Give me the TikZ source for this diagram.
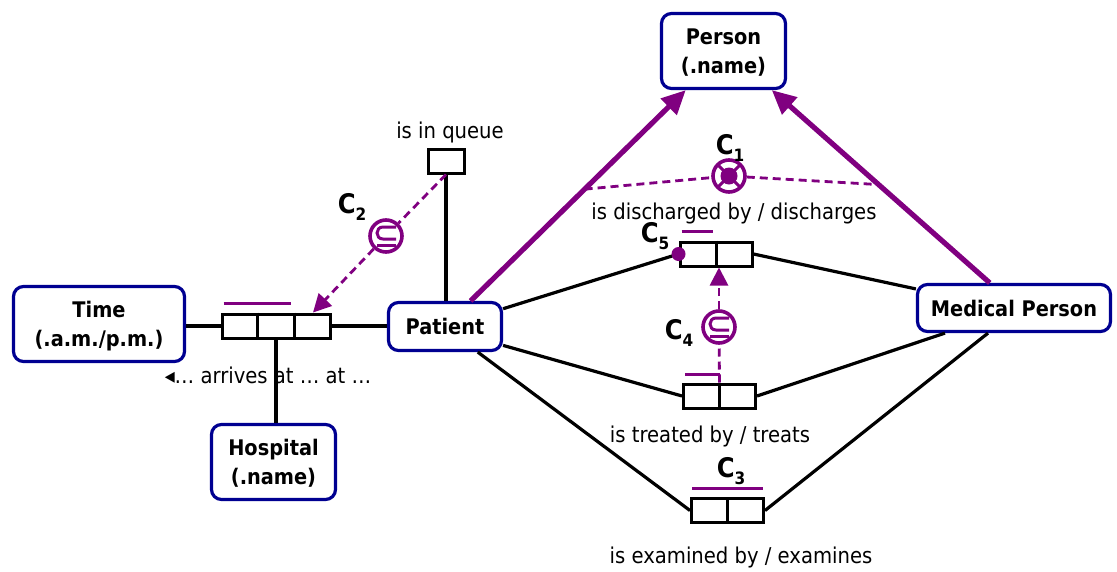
\documentclass[tikz,border=0pt]{standalone}
\usepackage{fontspec}
\setmainfont{DejaVu Sans Condensed}
\usetikzlibrary{arrows.meta,calc}

\definecolor{ormpurple}{RGB}{128,0,128}
\definecolor{entblue}{RGB}{0,0,145}

\tikzset{
  ent/.style={draw=entblue, line width=3.2pt, rounded corners=10pt, fill=white,
    align=center, inner sep=0pt, font=\fontsize{21.5}{29}\selectfont\bfseries},
  rolebox/.style={draw=black, line width=3pt, fill=white, minimum height=24pt,
    inner sep=0pt},
  conn/.style={draw=black, line width=3.2pt},
  cell/.style={draw=black, line width=3pt},
  ubar/.style={draw=ormpurple, line width=3pt},
  subarrow/.style={draw=ormpurple, line width=5.2pt,
    -{Triangle[length=24pt,width=22pt]}},
  cdash/.style={draw=ormpurple, line width=2.8pt, dash pattern=on 8pt off 5pt},
  carrow/.style={cdash, -{Triangle[length=18pt,width=18pt]}},
  cring/.style={circle, draw=ormpurple, line width=3.6pt, fill=white,
    minimum size=32pt, inner sep=0pt},
  lbl/.style={font=\fontsize{21.8}{24}\selectfont, inner sep=0pt, anchor=base},
  clbl/.style={font=\fontsize{27}{27}\selectfont\bfseries, inner sep=0pt},
  subsetsym/.pic={
    \draw[ormpurple, line width=3pt]
      (10,-9) -- (-3,-9) to[out=180,in=180,looseness=1.7] (-3,3) -- (10,3);
    \draw[ormpurple, line width=3pt] (-9,9) -- (10,9);
  }
}

\newcommand{\conlabel}[1]{C\raisebox{-0.28em}{\fontsize{17}{17}\selectfont #1}}

\begin{document}
\begin{tikzpicture}[x=1pt,y=-1pt]
\useasboundingbox (0,0) rectangle (1117,571);

% entity types
\node[ent, text depth=0pt, minimum width=124pt, minimum height=75pt] (per) at (723.5,51) {Person\\(.name)};
\node[ent, text depth=0pt, minimum width=171pt, minimum height=75pt] (tim) at (99,324) {Time\\(.a.m./p.m.)};
\node[ent, text depth=0pt, minimum width=124pt, minimum height=75pt] (hos) at (273.5,462) {Hospital\\(.name)};
\node[ent, minimum width=113pt, minimum height=48pt] (pat) at (445,326.5) {Patient};
\node[ent, minimum width=193pt, minimum height=47pt] (med) at (1014,308) {Medical Person};

% fact types (role boxes)
\node[rolebox, minimum width=108pt] (arr) at (276,326) {};
\node[rolebox, minimum width=36pt] (que) at (446,161) {};
\node[rolebox, minimum width=72pt] (dis) at (716,254) {};
\node[rolebox, minimum width=72pt] (tre) at (719.5,396) {};
\node[rolebox, minimum width=72pt] (exa) at (727.5,510.5) {};

\draw[cell] ($(arr.north west)!1/3!(arr.north east)$) -- ($(arr.south west)!1/3!(arr.south east)$);
\draw[cell] ($(arr.north west)!2/3!(arr.north east)$) -- ($(arr.south west)!2/3!(arr.south east)$);
\draw[cell] (dis.north) -- (dis.south);
\draw[cell] (tre.north) -- (tre.south);
\draw[cell] (exa.north) -- (exa.south);

% role connectors
\draw[conn] (arr.west -| tim.east) -- (arr.west);
\draw[conn] (arr.east) -- (arr.east -| pat.west);
\draw[conn] (arr.south) -- (arr.south |- hos.north);
\draw[conn] (que.south) -- (que.south |- pat.north);
\draw[conn] (pat.17) -- (dis.west);
\draw[conn] (dis.east) -- (med.169.5);
\draw[conn] (pat.-18) -- (tre.west);
\draw[conn] (tre.east) -- (med.-160.6);
\draw[conn] (pat.-38) -- (exa.west);
\draw[conn] (exa.east) -- (med.-136);

% mandatory role dot
\fill[ormpurple] (dis.west) circle (7pt);

% uniqueness constraints
\draw[ubar] ($(arr.north west)+(3,-9)$) -- ($(arr.north west)+(70,-9)$);
\draw[ubar] ($(dis.north west)+(3,-9.5)$) -- ($(dis.north west)+(34,-9.5)$);
\draw[ubar] ($(tre.north west)+(3,-8)$) -- ($(tre.north)+(0,-8)$);
\draw[ubar] ($(exa.north west)+(2,-9)$) -- ($(exa.north east)+(-2,-9)$);

% subtype connections
\draw[subarrow] (pat.45) -- coordinate[pos=0.53] (sl) (per.226.5);
\draw[subarrow] (med.134) -- coordinate[pos=0.51] (sr) (per.-39);

% C1: exclusive-or between the subtypes
\node[cring] (c1) at (729,176) {};
\draw[cdash] (sl) -- (c1);
\draw[cdash] (c1) -- (sr);
\draw[ormpurple, line width=3pt] ($(c1)+(-11,-11)$) -- ($(c1)+(11,11)$);
\draw[ormpurple, line width=3pt] ($(c1)+(-11,11)$) -- ($(c1)+(11,-11)$);
\fill[ormpurple] (c1) circle (8.5pt);
\node[clbl] (c1l) at (730,148) {\conlabel{1}};

% C2: subset from queue to arrival
\node[cring] (c2) at (386,236) {};
\coordinate (arrtip) at ($(arr.north west)!5/6!(arr.north east)$);
\draw[cdash] (que.south) -- (c2);
\draw[carrow] (c2) -- (arrtip);
\pic at (c2) {subsetsym};
\node[clbl] (c2l) at (352,207) {\conlabel{2}};

% C4: subset from treated to discharged
\node[cring] (c4) at (719,327) {};
\draw[cdash] (tre.north) -- (c4);
\draw[carrow] (c4) -- (c4 |- dis.south);
\pic at (c4) {subsetsym};
\node[clbl] (c4l) at (679,333) {\conlabel{4}};

% remaining constraint labels
\node[clbl] (c3l) at (731,471) {\conlabel{3}};
\node[clbl] (c5l) at (655,236) {\conlabel{5}};

% fact type readings
\node[lbl] (lq) at (450,138) {is in queue};
\node[lbl] (ld) at (734,219) {is discharged by / discharges};
\node[lbl] (lt) at (710,442) {is treated by / treats};
\node[lbl] (le) at (741,563) {is examined by / examines};
\node[lbl] (la) at (268,383) {{\fontsize{22}{22}\selectfont ◂}… arrives at … at …};
\end{tikzpicture}
\end{document}
